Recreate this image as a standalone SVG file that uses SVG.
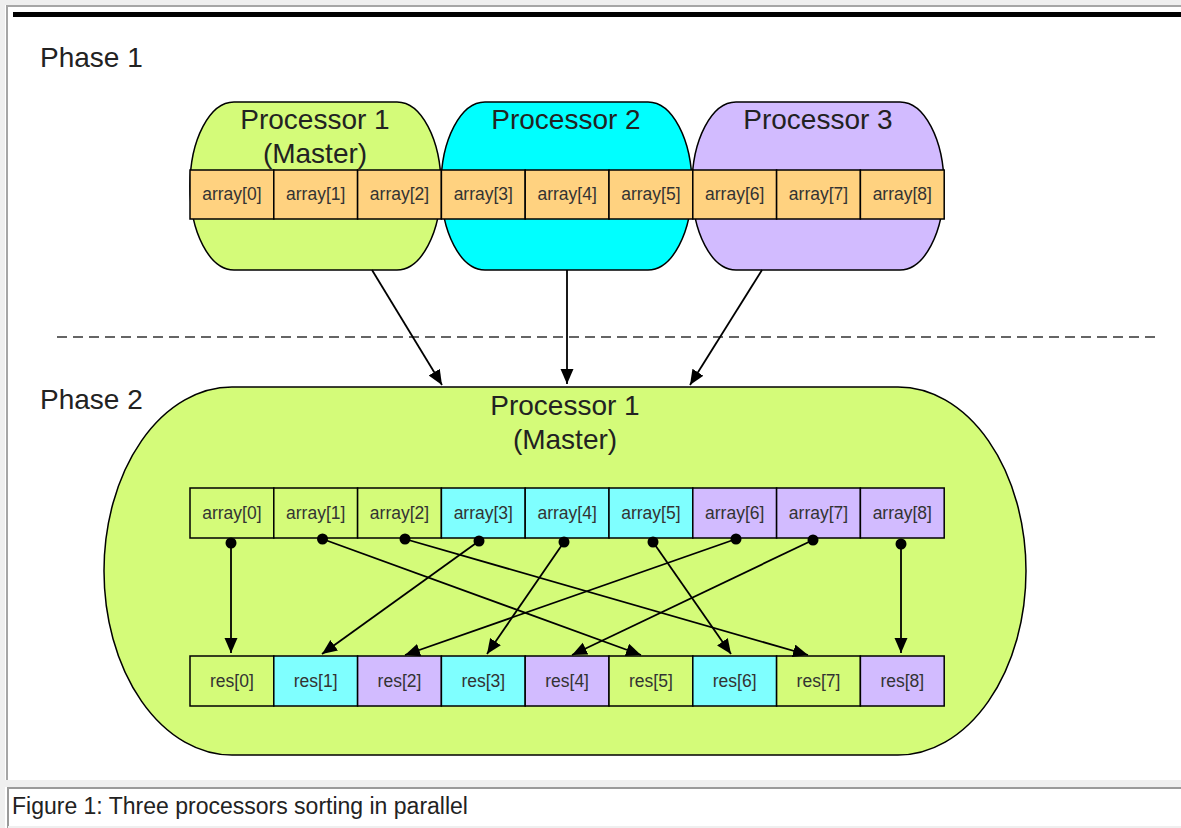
<svg xmlns="http://www.w3.org/2000/svg" width="1181" height="828" viewBox="0 0 1181 828">
<defs>
<marker id="ah" markerUnits="userSpaceOnUse" markerWidth="17" markerHeight="14" refX="15" refY="6.5" orient="auto">
<path d="M0,0 L15,6.5 L0,13 z" fill="#000"/>
</marker>
<style>
.lbl{font-family:"Liberation Sans",Arial,sans-serif;fill:#222}
.big{font-size:28px}
.proc{font-size:28px;text-anchor:middle}
.cell text{font-family:"Liberation Sans",Arial,sans-serif;font-size:17.5px;fill:#333;text-anchor:middle}
.cell rect{stroke:#000;stroke-width:1.5}
.or{fill:#FFD280}
.gr{fill:#D4FB79}
.cy{fill:#7FFFFF}
.lv{fill:#D2BBFF}
.shape{stroke:#000;stroke-width:1.5}
.conn line{stroke:#000;stroke-width:1.8;marker-end:url(#ah)}
.conn circle{fill:#000}
</style>
</defs>
<rect x="0" y="0" width="1181" height="828" fill="#fff"/>
<rect x="0" y="0" width="1181" height="5" fill="#efefef"/>
<rect x="0" y="0" width="5" height="828" fill="#efefef"/>
<rect x="0" y="780" width="1181" height="7" fill="#efefef"/>
<line x1="6" y1="6" x2="1181" y2="6" stroke="#a6a6a6" stroke-width="2"/>
<line x1="7" y1="6" x2="7" y2="780" stroke="#a6a6a6" stroke-width="2"/>
<rect x="13" y="12" width="1168" height="5" fill="#000"/>
<line x1="7" y1="788" x2="1181" y2="788" stroke="#9a9a9a" stroke-width="2"/>
<line x1="8" y1="787" x2="8" y2="828" stroke="#9a9a9a" stroke-width="2"/>
<line x1="8" y1="827" x2="1181" y2="827" stroke="#efefef" stroke-width="2"/>

<text class="lbl big" x="40" y="67">Phase 1</text>
<text class="lbl big" x="40" y="409">Phase 2</text>
<line x1="57" y1="337" x2="1160" y2="337" stroke="#333" stroke-width="1.5" stroke-dasharray="10 6"/>

<g id="proc1">
<path class="shape gr" d="M234,102 H397 A44,84 0 0 1 397,270 H234 A44,84 0 0 1 234,102 Z"/>
<text class="lbl proc" x="315" y="129">Processor 1</text>
<text class="lbl proc" x="315" y="163">(Master)</text>
</g>
<g id="proc2">
<path class="shape" fill="#00FFFF" d="M485,102 H648 A44,84 0 0 1 648,270 H485 A44,84 0 0 1 485,102 Z"/>
<text class="lbl proc" x="566" y="129">Processor 2</text>
</g>
<g id="proc3">
<path class="shape lv" d="M736,102 H900 A44,84 0 0 1 900,270 H736 A44,84 0 0 1 736,102 Z"/>
<text class="lbl proc" x="818" y="129">Processor 3</text>
</g>

<g id="phase1-array" class="cell">
<rect class="or" x="190" y="170" width="83.8" height="49"/><text x="231.9" y="200">array[0]</text>
<rect class="or" x="273.8" y="170" width="83.8" height="49"/><text x="315.7" y="200">array[1]</text>
<rect class="or" x="357.6" y="170" width="83.8" height="49"/><text x="399.5" y="200">array[2]</text>
<rect class="or" x="441.4" y="170" width="83.8" height="49"/><text x="483.3" y="200">array[3]</text>
<rect class="or" x="525.2" y="170" width="83.8" height="49"/><text x="567.1" y="200">array[4]</text>
<rect class="or" x="609" y="170" width="83.8" height="49"/><text x="650.9" y="200">array[5]</text>
<rect class="or" x="692.8" y="170" width="83.8" height="49"/><text x="734.7" y="200">array[6]</text>
<rect class="or" x="776.6" y="170" width="83.8" height="49"/><text x="818.5" y="200">array[7]</text>
<rect class="or" x="860.4" y="170" width="83.8" height="49"/><text x="902.3" y="200">array[8]</text>
</g>

<g id="master">
<path class="shape gr" d="M232,387 H898 A128,184 0 0 1 898,755 H232 A128,184 0 0 1 232,387 Z"/>
<text class="lbl proc" x="565" y="415">Processor 1</text>
<text class="lbl proc" x="565" y="449">(Master)</text>
</g>

<g id="phase2-array" class="cell">
<rect class="gr" x="190" y="488" width="83.8" height="50"/><text x="231.9" y="519">array[0]</text>
<rect class="gr" x="273.8" y="488" width="83.8" height="50"/><text x="315.7" y="519">array[1]</text>
<rect class="gr" x="357.6" y="488" width="83.8" height="50"/><text x="399.5" y="519">array[2]</text>
<rect class="cy" x="441.4" y="488" width="83.8" height="50"/><text x="483.3" y="519">array[3]</text>
<rect class="cy" x="525.2" y="488" width="83.8" height="50"/><text x="567.1" y="519">array[4]</text>
<rect class="cy" x="609" y="488" width="83.8" height="50"/><text x="650.9" y="519">array[5]</text>
<rect class="lv" x="692.8" y="488" width="83.8" height="50"/><text x="734.7" y="519">array[6]</text>
<rect class="lv" x="776.6" y="488" width="83.8" height="50"/><text x="818.5" y="519">array[7]</text>
<rect class="lv" x="860.4" y="488" width="83.8" height="50"/><text x="902.3" y="519">array[8]</text>
</g>

<g id="res" class="cell">
<rect class="gr" x="190" y="656" width="83.8" height="50"/><text x="231.9" y="687">res[0]</text>
<rect class="cy" x="273.8" y="656" width="83.8" height="50"/><text x="315.7" y="687">res[1]</text>
<rect class="lv" x="357.6" y="656" width="83.8" height="50"/><text x="399.5" y="687">res[2]</text>
<rect class="cy" x="441.4" y="656" width="83.8" height="50"/><text x="483.3" y="687">res[3]</text>
<rect class="lv" x="525.2" y="656" width="83.8" height="50"/><text x="567.1" y="687">res[4]</text>
<rect class="gr" x="609" y="656" width="83.8" height="50"/><text x="650.9" y="687">res[5]</text>
<rect class="cy" x="692.8" y="656" width="83.8" height="50"/><text x="734.7" y="687">res[6]</text>
<rect class="gr" x="776.6" y="656" width="83.8" height="50"/><text x="818.5" y="687">res[7]</text>
<rect class="lv" x="860.4" y="656" width="83.8" height="50"/><text x="902.3" y="687">res[8]</text>
</g>

<g id="connectors" class="conn">
<line x1="372" y1="270" x2="442" y2="385"/>
<line x1="567" y1="270" x2="567" y2="384"/>
<line x1="762" y1="270" x2="690" y2="385"/>

<line x1="231" y1="543" x2="231" y2="653"/>
<line x1="322.5" y1="539" x2="641" y2="655"/>
<line x1="405" y1="539" x2="808" y2="655"/>
<line x1="479" y1="541" x2="322" y2="654"/>
<line x1="564" y1="542" x2="487" y2="654"/>
<line x1="653" y1="542" x2="731" y2="654"/>
<line x1="736" y1="539" x2="405" y2="655"/>
<line x1="813" y1="540" x2="572" y2="655"/>
<line x1="901" y1="544" x2="901" y2="653"/>
<circle cx="231" cy="543" r="5.5"/>
<circle cx="322.5" cy="539" r="5.5"/>
<circle cx="405" cy="539" r="5.5"/>
<circle cx="479" cy="541" r="5.5"/>
<circle cx="564" cy="542" r="5.5"/>
<circle cx="653" cy="542" r="5.5"/>
<circle cx="736" cy="539" r="5.5"/>
<circle cx="813" cy="540" r="5.5"/>
<circle cx="901" cy="544" r="5.5"/>
</g>

<text class="lbl" x="12" y="814" font-size="23" fill="#111">Figure 1: Three processors sorting in parallel</text>
</svg>
